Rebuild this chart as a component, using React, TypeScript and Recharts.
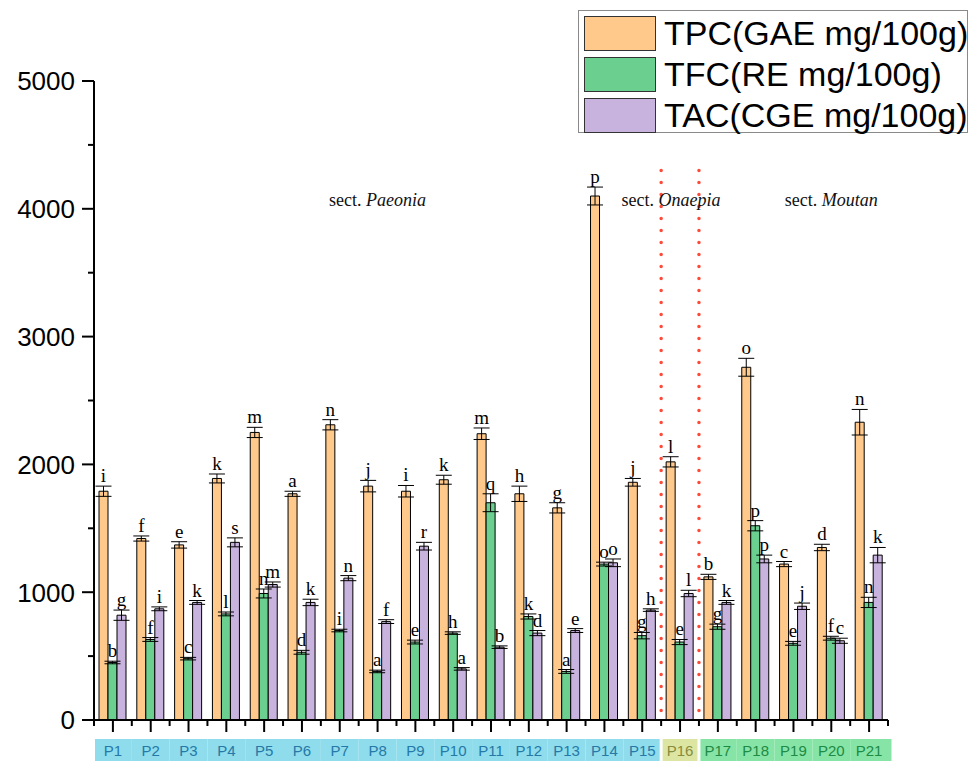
import {Bar, BarChart, ErrorBar, LabelList, ReferenceDot, ReferenceLine, XAxis, YAxis} from "recharts";

const samples = ["P1", "P2", "P3", "P4", "P5", "P6", "P7", "P8", "P9", "P10", "P11", "P12", "P13", "P14", "P15", "P16", "P17", "P18", "P19", "P20", "P21"];
const sectionOf = ["Paeonia", "Paeonia", "Paeonia", "Paeonia", "Paeonia", "Paeonia", "Paeonia", "Paeonia", "Paeonia", "Paeonia", "Paeonia", "Paeonia", "Paeonia", "Paeonia", "Paeonia", "Onaepia", "Moutan", "Moutan", "Moutan", "Moutan", "Moutan"];

const tpc = [1790, 1420, 1370, 1890, 2250, 1770, 2310, 1830, 1790, 1880, 2240, 1770, 1660, 4100, 1860, 2020, 1120, 2760, 1220, 1350, 2330];
const tpcErr = [40, 20, 25, 35, 40, 20, 40, 45, 45, 35, 45, 60, 40, 70, 30, 40, 20, 70, 20, 25, 100];
const tpcLetters = ["i", "f", "e", "k", "m", "a", "n", "j", "i", "k", "m", "h", "g", "p", "j", "l", "b", "o", "c", "d", "n"];

const tfc = [450, 630, 480, 830, 990, 530, 700, 380, 610, 680, 1700, 810, 380, 1220, 660, 610, 730, 1520, 600, 640, 920];
const tfcErr = [10, 15, 10, 15, 35, 15, 10, 10, 15, 10, 70, 20, 15, 15, 25, 20, 20, 40, 15, 15, 40];
const tfcLetters = ["b", "f", "c", "l", "n", "d", "i", "a", "e", "h", "q", "k", "a", "o", "g", "e", "g", "p", "e", "f", "n"];

const tac = [820, 870, 920, 1390, 1060, 920, 1110, 770, 1360, 400, 570, 680, 700, 1230, 860, 990, 920, 1260, 890, 620, 1290];
const tacErr = [40, 15, 15, 35, 20, 25, 20, 15, 30, 10, 10, 20, 15, 30, 10, 25, 15, 30, 25, 20, 60];
const tacLetters = ["g", "i", "k", "s", "m", "k", "n", "f", "r", "a", "b", "d", "e", "o", "h", "l", "k", "p", "j", "c", "k"];

const yTicks = [0, 500, 1000, 1500, 2000, 2500, 3000, 3500, 4000, 4500, 5000];

// dotted dividers sit at the start of these samples
const dividers = ["P16", "P17"];
const sectionTitles = [
  {name: "Paeonia", at: "P8", dx: 0},
  {name: "Onaepia", at: "P16", dx: -9},
  {name: "Moutan", at: "P20", dx: 0},
];

const series = [
  {key: "tpc", name: "TPC(GAE mg/100g)", color: "#FFC98C", err: tpcErr},
  {key: "tfc", name: "TFC(RE mg/100g)", color: "#6BD08F", err: tfcErr},
  {key: "tac", name: "TAC(CGE mg/100g)", color: "#C8B3DE", err: tacErr},
];

const sectionStyle: Record<string, {bg: string; fg: string}> = {
  Paeonia: {bg: "#8EDCEC", fg: "#2579A6"},
  Onaepia: {bg: "#DDE5A2", fg: "#878C3C"},
  Moutan: {bg: "#86E5A6", fg: "#1D8A45"},
};

const data = samples.map((s, i) => ({
  sample: s,
  tpc: tpc[i], tpcErr: tpcErr[i], tpcLetter: tpcLetters[i],
  tfc: tfc[i], tfcErr: tfcErr[i], tfcLetter: tfcLetters[i],
  tac: tac[i], tacErr: tacErr[i], tacLetter: tacLetters[i],
}));

const W = 970;
const H = 761;
const LEFT = 94;
const RIGHT = 888;
const TOP = 81;
const BOTTOM = 720;
const BAND = (RIGHT - LEFT) / samples.length;
const PX_PER_UNIT = (BOTTOM - TOP) / 5000;

function SampleTick(props: any) {
  const {x, y, payload, index} = props;
  const sec = sectionOf[index];
  const st = sectionStyle[sec];
  const firstOfSec = index === 0 || sectionOf[index - 1] !== sec;
  const lastOfSec = index === samples.length - 1 || sectionOf[index + 1] !== sec;
  const x0 = x - BAND / 2 + (firstOfSec && index > 0 ? 1.5 : 0) + (index === 0 ? 1 : 0);
  const x1 = x + BAND / 2 - (lastOfSec ? 1.5 : 0) + (index === samples.length - 1 ? 5 : 0);
  return (
    <g>
      <line x1={x} x2={x} y1={y} y2={y + 12} stroke="#000" strokeWidth={2}/>
      <line x1={x - BAND / 2} x2={x - BAND / 2} y1={y} y2={y + 6} stroke="#000" strokeWidth={2}/>
      {index === samples.length - 1 && (
        <line x1={x + BAND / 2} x2={x + BAND / 2} y1={y} y2={y + 6} stroke="#000" strokeWidth={2}/>
      )}
      <rect x={x0} y={y + 19} width={x1 - x0} height={24} fill={st.bg}/>
      <text x={x} y={y + 31} dy="0.35em" textAnchor="middle" fill={st.fg}
            fontFamily="'Liberation Sans', Arial, sans-serif" fontSize={15}>
        {payload.value}
      </text>
    </g>
  );
}

function ValueTick(props: any) {
  const {x, y, payload} = props;
  const major = payload.value % 1000 === 0;
  return (
    <g>
      <line x1={x - (major ? 12 : 6)} x2={x} y1={y} y2={y} stroke="#000" strokeWidth={2}/>
      {major && (
        <text x={x - 19} y={y} dy="0.36em" textAnchor="end" fill="#000"
              fontFamily="'Liberation Sans', Arial, sans-serif" fontSize={26}>
          {payload.value}
        </text>
      )}
    </g>
  );
}

function letterLabel(err: number[]) {
  return (props: any) => {
    const {x, y, width, value, index} = props;
    return (
      <text x={x + width / 2} y={y - err[index] * PX_PER_UNIT - 4} textAnchor="middle"
            fontFamily="'Liberation Serif', 'Times New Roman', serif" fontSize={19} fill="#000">
        {value}
      </text>
    );
  };
}

function sectionLabel(name: string, dx: number) {
  return (props: any) => {
    const {viewBox} = props;
    const cx = viewBox.x + (viewBox.width || 0) / 2 + dx;
    const cy = viewBox.y + (viewBox.height || 0) / 2;
    return (
      <text x={cx} y={cy} dy="0.35em" textAnchor="middle" fill="#111"
            fontFamily="'Liberation Serif', 'Times New Roman', serif" fontSize={18}>
        <tspan>sect. </tspan>
        <tspan fontStyle="italic">{name}</tspan>
      </text>
    );
  };
}

function LegendBox() {
  return (
    <div style={{
      position: "absolute", left: 578, top: 10, width: 390, height: 123,
      border: "1px solid #8a8a8a", boxSizing: "border-box", background: "#fff",
    }}>
      {series.map((s, i) => (
        <div key={s.key} style={{position: "absolute", left: 5, top: 4 + i * 41, height: 36, display: "flex", alignItems: "center"}}>
          <div style={{width: 72, height: 35, background: s.color, border: "1.5px solid #333", boxSizing: "border-box"}}/>
          <span style={{marginLeft: 8, fontFamily: "'Liberation Sans', Arial, sans-serif", fontSize: 34, color: "#000", whiteSpace: "nowrap", lineHeight: "36px"}}>
            {s.name}
          </span>
        </div>
      ))}
    </div>
  );
}

export default function App() {
  return (
    <div style={{position: "absolute", left: 0, top: 0, width: W, height: H, background: "#fff", overflow: "hidden"}}>
      <BarChart width={W} height={H} data={data} barGap={0} barSize={9}
                margin={{top: TOP, right: W - RIGHT, bottom: 0, left: 0}}>
        <XAxis dataKey="sample" height={H - BOTTOM} tickSize={0} tickMargin={0} tickLine={false}
               interval={0} axisLine={{stroke: "#000", strokeWidth: 2}} tick={<SampleTick/>}/>
        <YAxis width={LEFT} domain={[0, 5000]} ticks={yTicks} interval={0} tickSize={0} tickMargin={0}
               tickLine={false} axisLine={{stroke: "#000", strokeWidth: 2}} tick={<ValueTick/>}/>
        {dividers.map(d => (
          <ReferenceLine key={d} position="start" segment={[{x: d, y: 4300}, {x: d, y: 0}]}
                         stroke="#FF4A3A" strokeWidth={3.5} strokeDasharray="0 12" strokeLinecap="round"/>
        ))}
        {sectionTitles.map(t => (
          <ReferenceDot key={t.name} x={t.at} y={4070} r={0} fill="none" stroke="none"
                        ifOverflow="visible" label={sectionLabel(t.name, t.dx)}/>
        ))}
        {series.map(s => (
          <Bar key={s.key} dataKey={s.key} name={s.name} fill={s.color}
               stroke="#000" strokeWidth={1} isAnimationActive={false}>
            <ErrorBar dataKey={`${s.key}Err`} width={8} stroke="#000" strokeWidth={1} direction="y"/>
            <LabelList dataKey={`${s.key}Letter`} content={letterLabel(s.err)}/>
          </Bar>
        ))}
      </BarChart>
      <LegendBox/>
    </div>
  );
}
